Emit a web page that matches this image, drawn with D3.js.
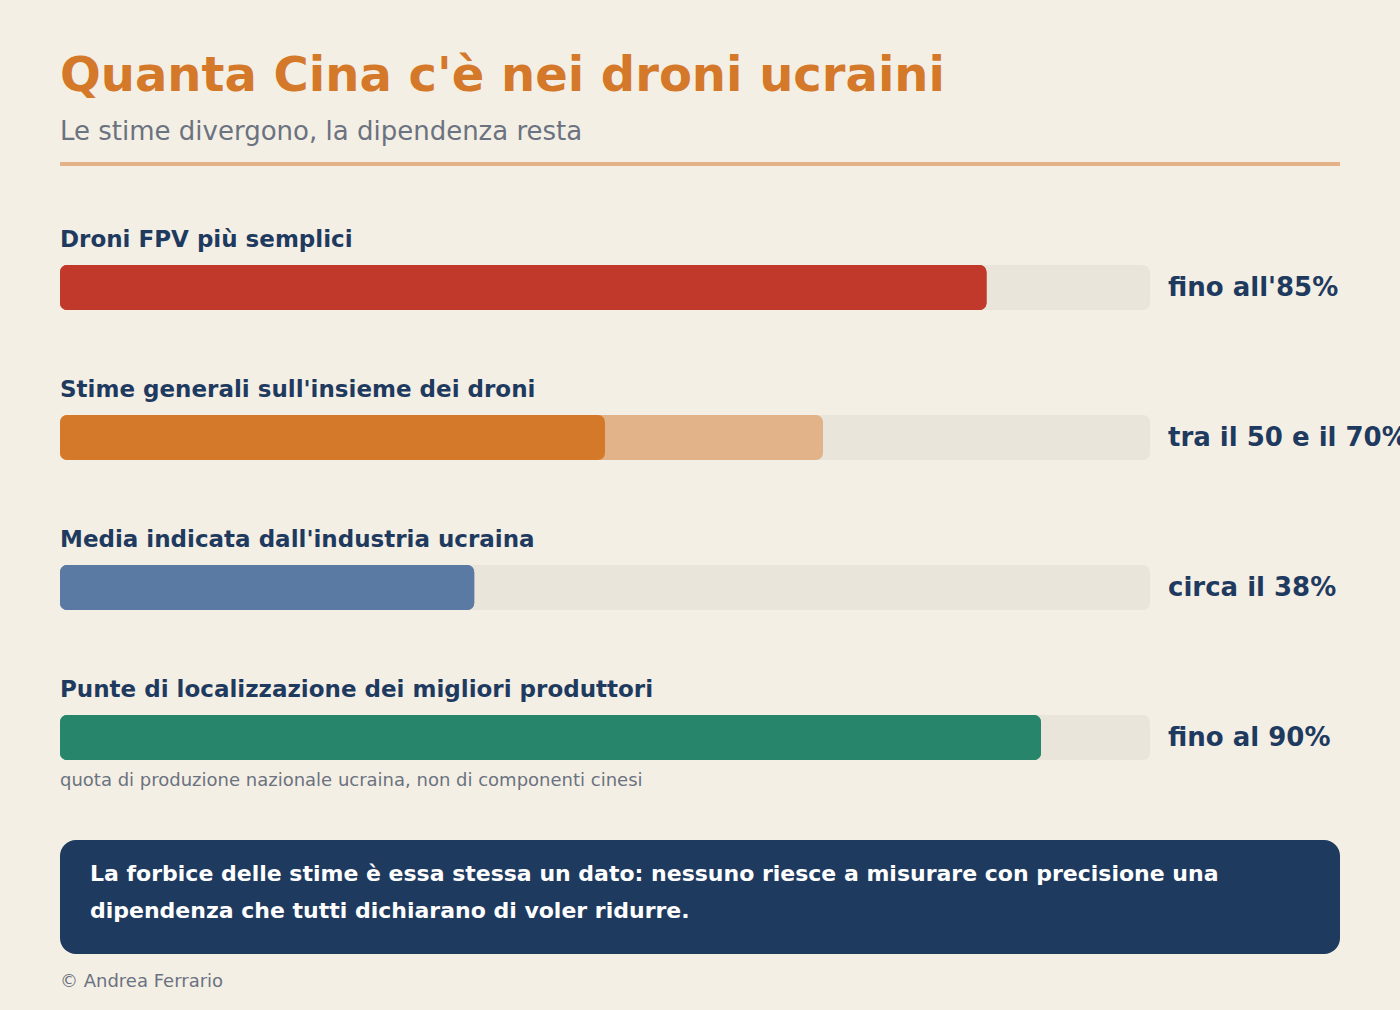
<!DOCTYPE html>
<html>
<head>
	<meta charset="utf-8">
	<style>
		body { margin: 0; background: #f4efe5; font-family: 'DejaVu Sans', sans-serif; }
	</style>
	<script src="https://cdn.jsdelivr.net/npm/d3@7"></script>
</head>
<body>
	<script>
		// data
		var categories = ["Droni FPV più semplici", "Stime generali sull'insieme dei droni", "Media indicata dall'industria ucraina", "Punte di localizzazione dei migliori produttori"];
		var lowValues = [85, 50, 38, 90];
		var highValues = [85, 70, 38, 90];
		var valueLabels = ["fino all'85%", "tra il 50 e il 70%", "circa il 38%", "fino al 90%"];
		var barColors = ["#c0392b", "#d4782a", "#5b7aa3", "#26856a"];
		var rangeColor = "#e2b388";

		var W = 1400, H = 1010;
		var left = 60, trackW = 1090;

		var svg = d3.select("body").append("svg")
			.attr("width", W)
			.attr("height", H);

		svg.append("rect").attr("width", W).attr("height", H).attr("fill", "#f4efe5");

		svg.append("text")
			.attr("x", left).attr("y", 91)
			.attr("font-size", 48).attr("font-weight", "bold")
			.attr("fill", "#d4782a")
			.text("Quanta Cina c'è nei droni ucraini");

		svg.append("text")
			.attr("x", left).attr("y", 140)
			.attr("font-size", 26)
			.attr("fill", "#6b7280")
			.text("Le stime divergono, la dipendenza resta");

		svg.append("rect")
			.attr("x", left).attr("y", 162).attr("width", 1280).attr("height", 4)
			.attr("fill", "#e3b387");

		var x = d3.scaleLinear().domain([0, 100]).range([0, trackW]);
		var y = d3.scaleBand().domain(categories).range([265, 865]).paddingInner(0);

		var rows = svg.selectAll("g.row")
			.data(categories)
			.enter().append("g")
			.attr("class", "row")
			.attr("transform", function (d) { return "translate(" + left + "," + y(d) + ")"; });

		rows.append("text")
			.attr("x", 0).attr("y", -18)
			.attr("font-size", 23).attr("font-weight", "bold")
			.attr("fill", "#1f3a5f")
			.text(function (d) { return d; });

		rows.append("rect")
			.attr("width", x(100)).attr("height", 45)
			.attr("rx", 7)
			.attr("fill", "#e9e5da");

		rows.append("rect")
			.attr("width", function (d, i) { return x(highValues[i]); })
			.attr("height", 45).attr("rx", 7)
			.attr("fill", function (d, i) { return highValues[i] > lowValues[i] ? rangeColor : barColors[i]; });

		rows.append("rect")
			.attr("width", function (d, i) { return x(lowValues[i]); })
			.attr("height", 45).attr("rx", 7)
			.attr("fill", function (d, i) { return barColors[i]; });

		rows.append("text")
			.attr("x", x(100) + 18).attr("y", 31)
			.attr("font-size", 26).attr("font-weight", "bold")
			.attr("fill", "#1f3a5f")
			.text(function (d, i) { return valueLabels[i]; });

		svg.append("text")
			.attr("x", left).attr("y", 786)
			.attr("font-size", 18)
			.attr("fill", "#6b7280")
			.text("quota di produzione nazionale ucraina, non di componenti cinesi");

		svg.append("rect")
			.attr("x", left).attr("y", 840).attr("width", 1280).attr("height", 114)
			.attr("rx", 16)
			.attr("fill", "#1f3a5f");

		var note = ["La forbice delle stime è essa stessa un dato: nessuno riesce a misurare con precisione una",
			"dipendenza che tutti dichiarano di voler ridurre."];
		svg.append("g").selectAll("text")
			.data(note)
			.enter().append("text")
			.attr("x", 90).attr("y", function (d, i) { return 881 + i * 37; })
			.attr("font-size", 22).attr("font-weight", "bold")
			.attr("fill", "#ffffff")
			.text(function (d) { return d; });

		svg.append("text")
			.attr("x", left).attr("y", 987)
			.attr("font-size", 18)
			.attr("fill", "#6b7280")
			.text("© Andrea Ferrario");
	</script>
</body>
</html>
